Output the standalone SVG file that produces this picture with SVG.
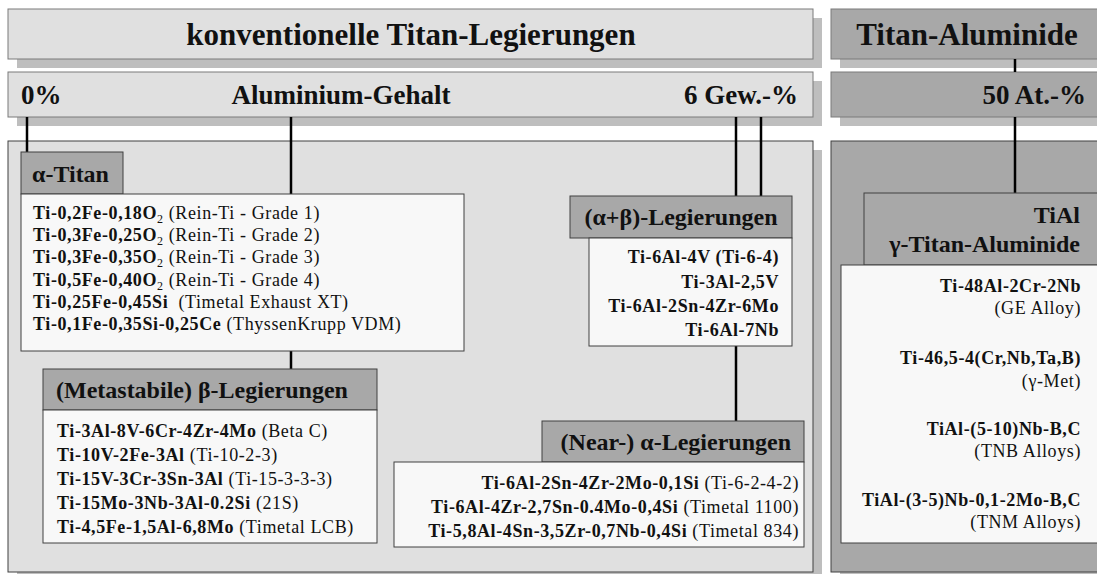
<svg xmlns="http://www.w3.org/2000/svg" width="1097" height="574" viewBox="0 0 1097 574">
<style>
.bg{fill:#ffffff}
.sh{fill:#bebebe}
.hl{fill:#e0e0e0;stroke:#7a7a7a;stroke-width:1}
.hd{fill:#a8a8a8;stroke:#7a7a7a;stroke-width:1}
.pl{fill:#e0e0e0;stroke:#404040;stroke-width:1}
.pd{fill:#a8a8a8;stroke:#404040;stroke-width:1}
.ih{fill:#a8a8a8;stroke:#404040;stroke-width:1}
.wb{fill:#f8f8f8;stroke:#404040;stroke-width:1}
.big{font-family:"Liberation Serif",serif;font-weight:bold;font-size:31px;fill:#111}
.mid{font-family:"Liberation Serif",serif;font-weight:bold;font-size:27px;fill:#111}
.hdr{font-family:"Liberation Serif",serif;font-weight:bold;font-size:24px;fill:#111}
.t{font-family:"Liberation Serif",serif;font-size:18px;letter-spacing:0.6px;fill:#111}
.b{font-weight:bold}
.sub{font-size:12px}
.con line{stroke:#000;stroke-width:2.5}
</style>
<rect class="bg" x="0" y="0" width="1097" height="574"/>

<g id="hdr-konventionell">
<rect class="sh" x="17" y="18" width="805" height="50"/>
<rect class="hl" x="8" y="9" width="805" height="50"/>
<text class="big" x="411" y="45" text-anchor="middle">konventionelle Titan-Legierungen</text>
</g>
<g id="hdr-aluminium">
<rect class="sh" x="17" y="81" width="805" height="45"/>
<rect class="hl" x="8" y="72" width="805" height="45"/>
<text class="mid" x="21" y="104">0%</text>
<text class="mid" x="341" y="104" text-anchor="middle">Aluminium-Gehalt</text>
<text class="mid" x="798" y="104" text-anchor="end">6 Gew.-%</text>
</g>
<g id="hdr-aluminide">
<rect class="sh" x="840" y="18" width="270" height="50"/>
<rect class="hd" x="831" y="9" width="270" height="50"/>
<text class="big" x="967" y="45" text-anchor="middle">Titan-Aluminide</text>
</g>
<g id="hdr-50at">
<rect class="sh" x="840" y="81" width="270" height="45"/>
<rect class="hd" x="831" y="72" width="270" height="45"/>
<text class="mid" x="1086" y="104" text-anchor="end">50 At.-%</text>
</g>

<g id="panel-konventionell">
<rect class="sh" x="17" y="150" width="805" height="431"/>
<rect class="pl" x="8" y="141" width="805" height="431"/>
</g>
<g id="panel-aluminide">
<rect class="sh" x="840" y="150" width="270" height="431"/>
<rect class="pd" x="831" y="141" width="270" height="431"/>
</g>

<g id="connectors" class="con">
<line x1="27" y1="117" x2="27" y2="152"/>
<line x1="291" y1="117" x2="291" y2="194"/>
<line x1="291" y1="351" x2="291" y2="369"/>
<line x1="736" y1="117" x2="736" y2="196"/>
<line x1="761" y1="117" x2="761" y2="196"/>
<line x1="736" y1="346" x2="736" y2="421"/>
<line x1="1015" y1="59" x2="1015" y2="72"/>
<line x1="1015" y1="117" x2="1015" y2="193"/>
</g>

<g id="alpha-titan">
<rect class="ih" x="21" y="152" width="102" height="42"/>
<text class="hdr" x="32" y="182">α-Titan</text>
<rect class="wb" x="21" y="194" width="443" height="157"/>
<text class="t" x="33" y="219"><tspan class="b">Ti-0,2Fe-0,18O</tspan><tspan class="sub" dy="4">2</tspan><tspan dy="-4"> (Rein-Ti - Grade 1)</tspan></text>
<text class="t" x="33" y="241"><tspan class="b">Ti-0,3Fe-0,25O</tspan><tspan class="sub" dy="4">2</tspan><tspan dy="-4"> (Rein-Ti - Grade 2)</tspan></text>
<text class="t" x="33" y="263"><tspan class="b">Ti-0,3Fe-0,35O</tspan><tspan class="sub" dy="4">2</tspan><tspan dy="-4"> (Rein-Ti - Grade 3)</tspan></text>
<text class="t" x="33" y="286"><tspan class="b">Ti-0,5Fe-0,40O</tspan><tspan class="sub" dy="4">2</tspan><tspan dy="-4"> (Rein-Ti - Grade 4)</tspan></text>
<text class="t" x="33" y="308"><tspan class="b">Ti-0,25Fe-0,45Si</tspan><tspan dx="5"> (Timetal Exhaust XT)</tspan></text>
<text class="t" x="33" y="330"><tspan class="b">Ti-0,1Fe-0,35Si-0,25Ce</tspan> (ThyssenKrupp VDM)</text>
</g>

<g id="beta">
<rect class="ih" x="43" y="369" width="334" height="41"/>
<text class="hdr" x="56" y="398">(Metastabile) β-Legierungen</text>
<rect class="wb" x="43" y="410" width="334" height="133"/>
<text class="t" x="57" y="437"><tspan class="b">Ti-3Al-8V-6Cr-4Zr-4Mo</tspan> (Beta C)</text>
<text class="t" x="57" y="461"><tspan class="b">Ti-10V-2Fe-3Al</tspan> (Ti-10-2-3)</text>
<text class="t" x="57" y="485"><tspan class="b">Ti-15V-3Cr-3Sn-3Al</tspan> (Ti-15-3-3-3)</text>
<text class="t" x="57" y="509"><tspan class="b">Ti-15Mo-3Nb-3Al-0.2Si</tspan> (21S)</text>
<text class="t" x="57" y="533"><tspan class="b">Ti-4,5Fe-1,5Al-6,8Mo</tspan> (Timetal LCB)</text>
</g>

<g id="alpha-beta">
<rect class="ih" x="570" y="196" width="222" height="42"/>
<text class="hdr" x="681" y="225" text-anchor="middle">(α+β)-Legierungen</text>
<rect class="wb" x="589" y="238" width="203" height="108"/>
<text class="t b" x="779" y="263" text-anchor="end">Ti-6Al-4V (Ti-6-4)</text>
<text class="t b" x="779" y="288" text-anchor="end">Ti-3Al-2,5V</text>
<text class="t b" x="779" y="312" text-anchor="end">Ti-6Al-2Sn-4Zr-6Mo</text>
<text class="t b" x="779" y="336" text-anchor="end">Ti-6Al-7Nb</text>
</g>

<g id="near-alpha">
<rect class="ih" x="542" y="421" width="262" height="41"/>
<text class="hdr" x="791" y="450" text-anchor="end">(Near-) α-Legierungen</text>
<rect class="wb" x="394" y="462" width="410" height="85"/>
<text class="t" x="799" y="489" text-anchor="end"><tspan class="b">Ti-6Al-2Sn-4Zr-2Mo-0,1Si</tspan> (Ti-6-2-4-2)</text>
<text class="t" x="799" y="513" text-anchor="end"><tspan class="b">Ti-6Al-4Zr-2,7Sn-0.4Mo-0,4Si</tspan> (Timetal 1100)</text>
<text class="t" x="799" y="537" text-anchor="end"><tspan class="b">Ti-5,8Al-4Sn-3,5Zr-0,7Nb-0,4Si</tspan> (Timetal 834)</text>
</g>

<g id="tial">
<rect class="ih" x="864" y="193" width="240" height="72"/>
<text class="hdr" x="1080" y="223" text-anchor="end">TiAl</text>
<text class="hdr" x="1080" y="252" text-anchor="end">γ-Titan-Aluminide</text>
<rect class="wb" x="841" y="265" width="263" height="278"/>
<text class="t b" x="1081" y="292" text-anchor="end">Ti-48Al-2Cr-2Nb</text>
<text class="t" x="1081" y="314" text-anchor="end">(GE Alloy)</text>
<text class="t b" x="1081" y="364" text-anchor="end">Ti-46,5-4(Cr,Nb,Ta,B)</text>
<text class="t" x="1081" y="387" text-anchor="end">(γ-Met)</text>
<text class="t b" x="1081" y="435" text-anchor="end">TiAl-(5-10)Nb-B,C</text>
<text class="t" x="1081" y="457" text-anchor="end">(TNB Alloys)</text>
<text class="t b" x="1081" y="506" text-anchor="end">TiAl-(3-5)Nb-0,1-2Mo-B,C</text>
<text class="t" x="1081" y="528" text-anchor="end">(TNM Alloys)</text>
</g>
</svg>
